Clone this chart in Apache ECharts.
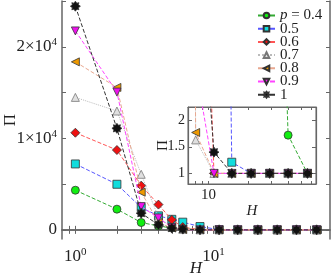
<!DOCTYPE html>
<html><head><meta charset="utf-8">
<script src="https://cdn.jsdelivr.net/npm/echarts@6/dist/echarts.min.js"></script>
<style>html,body{margin:0;padding:0;background:#fff}#c{width:332px;height:278px}</style>
</head><body><div id="c"></div>
<script>
const H = [1, 2, 3, 4, 5, 6, 8, 11, 15, 21, 29, 40, 56];
const p04 = [4330, 2260, 800, 420, 200, 110, 60, 35, 22, 15, 12, 1.72, 1];
const p05 = [7200, 4980, 2430, 1530, 1150, 840, 360, 26, 1.21, 1, 1, 1, 1];
const p06 = [10610, 8720, 4830, 2760, 1090, 300, 11, 1, 1, 1, 1, 1, 1];
const p07 = [14470, 12980, 6070, 1380, 300, 60, 1.63, 1, 1, 1, 1, 1, 1];
const p08 = [18350, 15560, 4110, 800, 200, 40, 1.77, 1, 1, 1, 1, 1, 1];
const p09 = [21730, 15050, 2540, 1300, 250, 30, 3, 1, 1, 1, 1, 1, 1];
const p10 = [24430, 11090, 1820, 550, 190, 80, 6, 1.4, 1, 1, 1, 1, 1];
const seriesNames = ['p = 0.4', '0.5', '0.6', '0.7', '0.8', '0.9', '1'];
const mainYTicks = [0, 5000, 10000, 15000, 20000, 25000];
const mainYLabels = [0, 10000, 20000];
const mainXTicks = [0.9, 1, 2, 3, 4, 5, 6, 7, 8, 9, 10, 20, 30, 40, 50, 60];
const mainXLabels = [1, 10];
const insetYTicks = [1, 1.5, 2];
const insetYLabels = [1, 1.5, 2];
const insetXTicks = [7, 8, 9, 10, 20, 30, 40, 50, 60];
const insetXLabels = [10];

const allData = [p04, p05, p06, p07, p08, p09, p10];
const star = 'path://M0,-10 L3,-6 L7.1,-7.1 L6,-3 L10,0 L6,3 L7.1,7.1 L3,6 L0,10 L-3,6 L-7.1,7.1 L-6,3 L-10,0 L-6,-3 L-7.1,-7.1 L-3,-6 Z';
const styles = [
  {symbol: 'circle', size: 8, fill: '#11ee11', line: '#33aa33', type: 'dashed', rot: 0},
  {symbol: 'rect', size: 8, fill: '#11dddd', line: '#5555ff', type: 'dashed', rot: 0},
  {symbol: 'diamond', size: 9, fill: '#ee1111', line: '#ff5555', type: 'dashed', rot: 0},
  {symbol: 'triangle', size: 8, fill: '#e0e0e0', line: '#bbbbbb', type: 'dotted', rot: 0, border: '#777'},
  {symbol: 'triangle', size: 8, fill: '#ee9900', line: '#e8a890', type: 'dashed', rot: 90},
  {symbol: 'triangle', size: 8, fill: '#ee11ee', line: '#ff44ff', type: 'dashed', rot: 180},
  {symbol: star, size: 10, fill: '#111', line: '#333', type: 'dashed', rot: 0}
];
const font = 'Liberation Serif';
const frame = '#666';
const sup = {fontSize: 11, fontFamily: font, color: '#222', padding: [0, 0, 9, 0]};

function mkSeries(xi, yi) {
  return allData.map((d, i) => ({
    name: seriesNames[i], type: 'line', xAxisIndex: xi, yAxisIndex: yi,
    data: H.map((h, j) => [h, d[j]]),
    symbol: styles[i].symbol, symbolSize: styles[i].size, symbolRotate: styles[i].rot,
    itemStyle: {color: styles[i].fill, borderColor: styles[i].border || '#333', borderWidth: 0.8},
    lineStyle: {color: styles[i].line, width: 1, type: styles[i].type},
    clip: true, animation: false, z: 2 + i
  }));
}

const tickStyle = {lineStyle: {color: frame, width: 1}};
const option = {
  animation: false,
  grid: [
    {left: 62, right: 2, top: 1, bottom: 39, show: false, outerBoundsMode: 'none', containLabel: false},
    {left: 188, right: 16, top: 107, bottom: 94, show: true, backgroundColor: '#fff', borderColor: frame, borderWidth: 1, z: 10, outerBoundsMode: 'none', containLabel: false}
  ],
  graphic: [
    {type: 'text', x: 163, y: 145.5, rotation: Math.PI / 2, z: 50,
     style: {text: 'Π', fontFamily: font, fontSize: 15, fill: '#222', align: 'center', verticalAlign: 'middle'}}
  ],
  legend: {
    data: seriesNames, orient: 'vertical', left: 252, top: 3, itemWidth: 17, itemHeight: 7, itemGap: -1.8,
    textStyle: {fontFamily: font, fontSize: 15, color: '#222', lineHeight: 13,
      rich: {i: {fontStyle: 'italic', fontFamily: font, fontSize: 15, color: '#222', lineHeight: 13}}},
    formatter: n => n.startsWith('p') ? '{i|p} = 0.4' : n
  },
  xAxis: [
    {type: 'log', gridIndex: 0, min: 0.8, max: 70, position: 'bottom',
     name: 'H', nameLocation: 'middle', nameGap: 21, nameMoveOverlap: false,
     nameTextStyle: {fontFamily: font, fontSize: 17, fontStyle: 'italic', color: '#222'},
     axisLine: {show: true, lineStyle: {color: frame, width: 1.5}},
     axisTick: {show: true, inside: true, length: 4, customValues: mainXTicks, ...tickStyle},
     axisLabel: {customValues: mainXLabels, margin: 8, fontFamily: font, fontSize: 17, color: '#222',
       formatter: v => '10{s|' + Math.round(Math.log10(v)) + '}', rich: {s: sup}},
     splitLine: {show: false}, minorTick: {show: false}},
    {type: 'log', gridIndex: 0, min: 0.8, max: 70, position: 'top',
     axisLine: {show: true, lineStyle: {color: frame, width: 1.5}},
     axisTick: {show: true, inside: true, length: 4, customValues: mainXTicks, ...tickStyle},
     axisLabel: {show: false}, splitLine: {show: false}},
    {type: 'log', gridIndex: 1, min: 7, max: 65, position: 'bottom',
     name: 'H', nameLocation: 'middle', nameGap: 15,
     nameTextStyle: {fontFamily: font, fontSize: 15, fontStyle: 'italic', color: '#222'},
     axisLine: {show: true, lineStyle: {color: frame, width: 1.2}},
     axisTick: {show: true, inside: true, length: 3, customValues: insetXTicks, ...tickStyle},
     axisLabel: {customValues: insetXLabels, margin: 4, fontFamily: font, fontSize: 15, color: '#222'},
     splitLine: {show: false}, z: 11},
    {type: 'log', gridIndex: 1, min: 7, max: 65, position: 'top',
     axisLine: {show: true, lineStyle: {color: frame, width: 1.2}},
     axisTick: {show: true, inside: true, length: 3, customValues: insetXTicks, ...tickStyle},
     axisLabel: {show: false}, splitLine: {show: false}, z: 11}
  ],
  yAxis: [
    {type: 'value', gridIndex: 0, min: -1000, max: 25000, position: 'left',
     name: 'Π', nameLocation: 'middle', nameGap: 43, nameRotate: 90, nameMoveOverlap: false,
     nameTextStyle: {fontFamily: font, fontSize: 17, color: '#222'},
     axisLine: {show: true, lineStyle: {color: frame, width: 1.5}},
     axisTick: {show: true, inside: true, length: 4, customValues: mainYTicks, ...tickStyle},
     axisLabel: {customValues: mainYLabels, margin: 5, fontFamily: font, fontSize: 17, color: '#222',
       formatter: v => v === 0 ? '0' : (v / 10000) + '×10{s|4}', rich: {s: sup}},
     splitLine: {show: false}},
    {type: 'value', gridIndex: 0, min: -1000, max: 25000, position: 'right',
     axisLine: {show: true, lineStyle: {color: frame, width: 1.5}},
     axisTick: {show: true, inside: true, length: 4, customValues: mainYTicks, ...tickStyle},
     axisLabel: {show: false}, splitLine: {show: false}},
    {type: 'value', gridIndex: 1, min: 0.8, max: 2.25, position: 'left',
     axisLine: {show: true, lineStyle: {color: frame, width: 1.2}},
     axisTick: {show: true, inside: true, length: 4, customValues: insetYTicks, ...tickStyle},
     axisLabel: {show: false},
     splitLine: {show: false}, z: 11},
    {type: 'value', gridIndex: 1, min: 0.8, max: 2.25, position: 'right',
     axisLine: {show: true, lineStyle: {color: frame, width: 1.2}},
     axisTick: {show: true, inside: true, length: 4, customValues: insetYTicks, ...tickStyle},
     axisLabel: {show: false}, splitLine: {show: false}, z: 11}
  ],
  series: mkSeries(0, 0).concat(mkSeries(2, 2).map(s => Object.assign(s, {z: 20 + s.z})))
};
const chart = echarts.init(document.getElementById('c'), null, {renderer: 'canvas'});
chart.setOption(option);
// inset y tick labels placed through the inset axis scale
const labelGraphics = insetYLabels.map(v => {
  const y = chart.convertToPixel({yAxisIndex: 2}, v);
  return {type: 'text', x: 185, y: y, z: 50,
    style: {text: String(v), fontFamily: font, fontSize: 14, fill: '#222', align: 'right', verticalAlign: 'middle'}};
});
chart.setOption({graphic: option.graphic.concat(labelGraphics)});
</script></body></html>
